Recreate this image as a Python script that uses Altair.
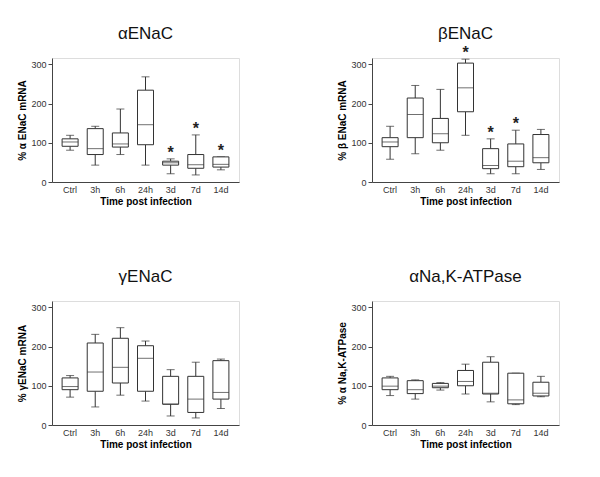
import altair as alt
import pandas as pd

cats = ["Ctrl", "3h", "6h", "24h", "3d", "7d", "14d"]

# alpha ENaC
a_min = [81, 43, 70, 43, 21, 18, 31]
a_q1 = [91, 70, 89, 95, 43, 35, 38]
a_med = [102, 85, 97, 146, 49, 44, 45]
a_q3 = [110, 136, 125, 234, 53, 70, 64]
a_max = [119, 142, 186, 268, 59, 120, 64]
a_star = [0, 0, 0, 0, 1, 1, 1]

# beta ENaC
b_min = [58, 72, 81, 119, 21, 21, 32]
b_q1 = [90, 113, 100, 179, 34, 39, 49]
b_med = [102, 172, 123, 240, 42, 53, 62]
b_q3 = [113, 214, 162, 303, 85, 97, 121]
b_max = [142, 246, 236, 313, 110, 132, 134]
b_star = [0, 0, 0, 1, 1, 1, 0]

# gamma ENaC
g_min = [71, 46, 76, 61, 23, 18, 42]
g_q1 = [90, 86, 107, 86, 53, 32, 66]
g_med = [98, 135, 147, 170, 53, 66, 83]
g_q3 = [120, 209, 221, 202, 124, 124, 164]
g_max = [126, 231, 248, 214, 141, 160, 168]
g_star = [0, 0, 0, 0, 0, 0, 0]

# alpha Na,K-ATPase
n_min = [75, 66, 89, 79, 59, 52, 72]
n_q1 = [90, 80, 95, 100, 79, 54, 74]
n_med = [99, 90, 99, 111, 81, 64, 81]
n_q3 = [120, 113, 106, 139, 160, 132, 109]
n_max = [124, 115, 108, 155, 174, 132, 124]
n_star = [0, 0, 0, 0, 0, 0, 0]

INK = "#333333"
FONT = "Liberation Sans"
W, H = 187, 124


def panel(title, ytitle, mins, q1s, meds, q3s, maxs, stars):
    df = pd.DataFrame({"cat": cats, "lo": mins, "q1": q1s, "med": meds,
                       "q3": q3s, "hi": maxs, "star": stars})
    x = alt.X("cat:N", sort=cats,
              scale=alt.Scale(paddingInner=0, paddingOuter=0.22),
              axis=alt.Axis(title="Time post infection", ticks=False, labelAngle=0,
                            labelFontSize=9, labelColor=INK, labelPadding=3,
                            domainColor="#444444", titleFontSize=10,
                            titleFontWeight="bold", titlePadding=2))
    ysc = alt.Scale(domain=[0, 316], nice=False)
    yax = alt.Axis(title=ytitle, values=[0, 50, 100, 150, 200, 250, 300],
                   labelFontSize=9, labelColor=INK, tickSize=4, tickColor="#444444",
                   domainColor="#444444", grid=False, titleFontSize=10,
                   titleFontWeight="bold", titlePadding=3)
    base = alt.Chart(df).encode(x=x)
    lo = base.mark_rule(color=INK, strokeWidth=1).encode(
        y=alt.Y("lo:Q", scale=ysc, axis=yax), y2="q1:Q")
    hi = base.mark_rule(color=INK, strokeWidth=1).encode(y="q3:Q", y2="hi:Q")
    cap_lo = base.mark_tick(color=INK, size=8, thickness=1).encode(y="lo:Q")
    cap_hi = base.mark_tick(color=INK, size=8, thickness=1).encode(y="hi:Q")
    box = base.mark_bar(size=16, fill="white", stroke=INK, strokeWidth=1).encode(
        y="q1:Q", y2="q3:Q")
    med = base.mark_tick(color=INK, size=16, thickness=1).encode(y="med:Q")
    star = base.transform_filter("datum.star == 1").mark_text(
        text="*", fontSize=16, fontWeight="bold", color="#222222", dy=-1,
        baseline="alphabetic").encode(y="hi:Q")
    ttl = alt.Chart(pd.DataFrame({"t": [title]})).mark_text(
        fontSize=17, font=FONT, color="#111111", align="center",
        baseline="alphabetic").encode(
        text="t:N", x=alt.value(W / 2), y=alt.value(-19))
    return alt.layer(lo, hi, cap_lo, cap_hi, box, med, star, ttl).properties(
        width=W, height=H)


p1 = panel("αENaC", "% α ENaC mRNA", a_min, a_q1, a_med, a_q3, a_max, a_star)
p2 = panel("βENaC", "% β ENaC mRNA", b_min, b_q1, b_med, b_q3, b_max, b_star)
p3 = panel("γENaC", "% γENaC mRNA", g_min, g_q1, g_med, g_q3, g_max, g_star)
p4 = panel("αNa,K-ATPase", "% α Na,K-ATPase", n_min, n_q1, n_med, n_q3, n_max, n_star)

chart = alt.vconcat(
    alt.hconcat(p1, p2, spacing=97),
    alt.hconcat(p3, p4, spacing=97),
    spacing=60,
).configure_view(stroke=None).configure(font=FONT, background="white").properties(
    padding={"left": 9, "top": 16, "right": 5, "bottom": 5})

chart.save("out.html", embed_options={"renderer": "svg", "actions": False})
